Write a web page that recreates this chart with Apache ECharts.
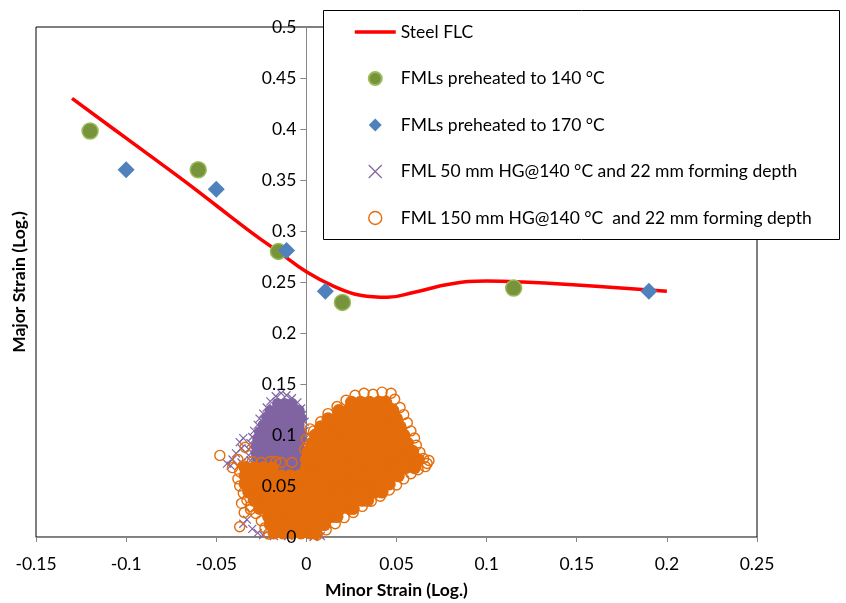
<!DOCTYPE html>
<html><head><meta charset="utf-8">
<script src="https://cdn.jsdelivr.net/npm/echarts@6/dist/echarts.min.js"></script>
<style>html,body{margin:0;padding:0;background:#fff}#c{width:846px;height:603px}</style>
</head><body><div id="c"></div>
<script>
// ---------- data ----------
const seriesNames = [
  'Steel FLC',
  'FMLs preheated to 140 °C',
  'FMLs preheated to 170 °C',
  'FML 50 mm HG@140 °C and 22 mm forming depth',
  'FML 150 mm HG@140 °C  and 22 mm forming depth'
];
const xAxisName = 'Minor Strain (Log.)';
const yAxisName = 'Major Strain (Log.)';
const xTicks = {min: -0.15, max: 0.25, step: 0.05};
const yTicks = {min: 0, max: 0.5, step: 0.05};

// Steel FLC curve
const flcX = [-0.13, -0.10, -0.07, -0.05, -0.03, -0.015, 0, 0.015, 0.03, 0.045, 0.06, 0.08, 0.10, 0.12, 0.15, 0.20];
const flcY = [0.430, 0.391, 0.352, 0.325, 0.298, 0.279, 0.260, 0.246, 0.237, 0.235, 0.240, 0.248, 0.251, 0.250, 0.247, 0.241];

// FMLs preheated to 140 °C
const fml140X = [-0.12, -0.06, -0.0155, 0.02, 0.115];
const fml140Y = [0.398, 0.360, 0.280, 0.230, 0.244];

// FMLs preheated to 170 °C
const fml170X = [-0.10, -0.05, -0.011, 0.0105, 0.19];
const fml170Y = [0.360, 0.341, 0.281, 0.241, 0.241];

// FML 50 mm HG : scattered points (edge / outliers)
const hg50Edge = [
  [-0.014,0.141],[-0.011,0.139],[-0.017,0.138],[-0.008,0.136],[-0.020,0.133],[-0.005,0.132],
  [-0.022,0.127],[-0.003,0.126],[-0.024,0.121],[-0.002,0.120],[-0.026,0.116],[-0.001,0.113],
  [-0.027,0.110],[-0.029,0.104],[-0.030,0.098],[-0.031,0.092],[-0.032,0.086],[-0.032,0.080],
  [-0.031,0.075],[-0.035,0.097],[-0.037,0.093],[-0.036,0.087],[-0.039,0.082],[-0.041,0.076],
  [-0.044,0.072],[-0.042,0.070],[-0.036,0.073],[-0.001,0.104],[-0.001,0.096],[-0.033,0.017],
  [-0.035,0.013],[-0.030,0.008],[-0.027,0.004],[-0.024,0.002],[-0.018,0.001],[-0.010,0.001],
  [0.004,0.000],[0.008,0.001]
];
// FML 50 mm HG : dense core, rows of [y, [x...]]
const hg50CoreRows = [
  [0.131, [-0.016,-0.012,-0.008]],
  [0.124, [-0.020,-0.016,-0.012,-0.008,-0.004]],
  [0.117, [-0.022,-0.018,-0.014,-0.010,-0.006,-0.003]],
  [0.110, [-0.024,-0.020,-0.016,-0.012,-0.008,-0.004]],
  [0.103, [-0.026,-0.022,-0.018,-0.014,-0.010,-0.006,-0.003]],
  [0.096, [-0.027,-0.023,-0.019,-0.015,-0.011,-0.007,-0.003]],
  [0.089, [-0.028,-0.024,-0.020,-0.016,-0.012,-0.008,-0.004]],
  [0.082, [-0.028,-0.024,-0.020,-0.016,-0.012,-0.008,-0.004]],
  [0.075, [-0.027,-0.023,-0.019,-0.015,-0.011,-0.007,-0.004]],
  [0.068, [-0.025,-0.021,-0.017,-0.013,-0.009,-0.005]]
];

// FML 150 mm HG : scattered points (edge / outliers)
const hg150Edge = [
  [0.004,0.104],[0.008,0.113],[0.012,0.121],[0.017,0.128],[0.022,0.134],[0.027,0.139],
  [0.032,0.141],[0.037,0.140],[0.042,0.142],[0.047,0.141],[0.049,0.135],[0.052,0.127],
  [0.054,0.120],[0.056,0.112],[0.058,0.104],[0.060,0.097],[0.061,0.090],[0.063,0.083],
  [0.065,0.077],[0.067,0.072],[0.066,0.069],[0.062,0.066],[0.058,0.062],[0.054,0.057],
  [0.050,0.051],[0.046,0.046],[0.041,0.040],[0.036,0.035],[0.031,0.030],[0.026,0.024],
  [0.021,0.019],[0.016,0.013],[0.011,0.007],[0.006,0.002],
  [0.000,0.096],[-0.001,0.086],[-0.008,0.073],[-0.014,0.073],[-0.020,0.074],[-0.025,0.073],
  [-0.030,0.074],[-0.035,0.070],[-0.037,0.064],[-0.038,0.057],[-0.037,0.050],[-0.035,0.043],
  [-0.033,0.036],[-0.031,0.030],[-0.028,0.023],[-0.025,0.016],[-0.023,0.009],[-0.021,0.003],
  [-0.048,0.080],[-0.034,0.088],[-0.038,0.076],[-0.041,0.068],[-0.037,0.010],[-0.0345,0.024],
  [-0.036,0.033],[-0.031,0.027],[-0.017,0.074],[0.002,0.106],[0.068,0.075]
];
// FML 150 mm HG : dense core, rows of [y, [x...]]
const hg150CoreRows = [
  [0.004, [-0.018,-0.013,-0.008,-0.003,0.002,0.005]],
  [0.012, [-0.020,-0.015,-0.010,-0.005,0.000,0.005,0.010]],
  [0.020, [-0.021,-0.016,-0.011,-0.006,-0.001,0.004,0.009,0.014,0.017]],
  [0.028, [-0.026,-0.021,-0.016,-0.011,-0.006,-0.001,0.004,0.009,0.014,0.019,0.024,0.026]],
  [0.036, [-0.029,-0.024,-0.019,-0.014,-0.009,-0.004,0.001,0.006,0.011,0.016,0.021,0.026,0.031,0.034]],
  [0.044, [-0.032,-0.027,-0.022,-0.017,-0.012,-0.007,-0.002,0.003,0.008,0.013,0.018,0.023,0.028,0.033,0.038,0.042]],
  [0.052, [-0.034,-0.029,-0.024,-0.019,-0.014,-0.009,-0.004,0.001,0.006,0.011,0.016,0.021,0.026,0.031,0.036,0.041,0.046]],
  [0.060, [-0.034,-0.029,-0.024,-0.019,-0.014,-0.009,-0.004,0.001,0.006,0.011,0.016,0.021,0.026,0.031,0.036,0.041,0.046,0.051]],
  [0.068, [-0.034,-0.029,-0.024,-0.019,0.000,0.005,0.010,0.015,0.020,0.025,0.030,0.035,0.040,0.045,0.050,0.055,0.060]],
  [0.076, [0.000,0.005,0.010,0.015,0.020,0.025,0.030,0.035,0.040,0.045,0.050,0.055,0.060,0.062]],
  [0.084, [0.001,0.006,0.011,0.016,0.021,0.026,0.031,0.036,0.041,0.046,0.051,0.056,0.059]],
  [0.092, [0.003,0.008,0.013,0.018,0.023,0.028,0.033,0.038,0.043,0.048,0.053,0.056]],
  [0.100, [0.005,0.010,0.015,0.020,0.025,0.030,0.035,0.040,0.045,0.050,0.054]],
  [0.108, [0.008,0.013,0.018,0.023,0.028,0.033,0.038,0.043,0.048,0.052]],
  [0.116, [0.012,0.017,0.022,0.027,0.032,0.037,0.042,0.047,0.050]],
  [0.124, [0.018,0.023,0.028,0.033,0.038,0.043,0.048]],
  [0.132, [0.025,0.030,0.035,0.040,0.044]]
];

// ---------- build ----------
const zip = (xs, ys) => xs.map((x, i) => [x, ys[i]]);
const rowsToPoints = rows => rows.flatMap(([y, xs]) => xs.map(x => [x, y]));

const FONT = 'Lato';
const FS = 17.5;
const C_RED = '#FF0000', C_GREEN = '#77933C', C_BLUE = '#4F81BD', C_PURPLE = '#8064A2', C_ORANGE = '#E46C0A';
const crossPath = 'path://M0,0L10,10M10,0L0,10';
const diamondPath = 'path://M5,0L10,5L5,10L0,5Z';

const GRID = {left: 36, right: 89, top: 27, bottom: 66};
const chart = echarts.init(document.getElementById('c'), null, {renderer: 'canvas'});
// the vertical axis sits at x = 0 of the horizontal axis
const plotW = 846 - GRID.left - GRID.right;
const zeroOffset = -plotW * (0 - xTicks.min) / (xTicks.max - xTicks.min);

chart.setOption({
  animation: false,
  backgroundColor: '#fff',
  textStyle: {fontFamily: FONT},
  grid: Object.assign({outerBoundsMode: 'none', containLabel: false,
         show: true, borderColor: '#000', borderWidth: 1, backgroundColor: 'transparent'}, GRID),
  graphic: {elements: [{
    type: 'rect', z: 10,
    shape: {x: 323.5, y: 10.5, width: 516, height: 229},
    style: {fill: '#fff', stroke: '#000', lineWidth: 1}
  }]},
  legend: {
    z: 20, orient: 'vertical', left: 353, top: 23, padding: 0,
    itemWidth: 41, itemHeight: 13, itemGap: 28.5,
    textStyle: {fontFamily: FONT, fontSize: FS, color: '#000'},
    data: [
      {name: seriesNames[0], itemStyle: {color: 'rgba(0,0,0,0)', borderWidth: 0}, lineStyle: {color: C_RED, width: 3.5}},
      {name: seriesNames[1]},
      {name: seriesNames[2], icon: diamondPath},
      {name: seriesNames[3], itemStyle: {borderWidth: 1.2}},
      {name: seriesNames[4], itemStyle: {borderWidth: 1.4}}
    ]
  },
  xAxis: {
    type: 'value', min: xTicks.min, max: xTicks.max, interval: xTicks.step,
    name: xAxisName, nameLocation: 'middle', nameGap: 44,
    nameTextStyle: {fontFamily: FONT, fontSize: FS, fontWeight: 'bold', color: '#000'},
    axisLine: {onZero: false, lineStyle: {color: '#868686', width: 1}},
    axisTick: {show: true, length: 5, lineStyle: {color: '#868686'}},
    axisLabel: {fontFamily: FONT, fontSize: FS, color: '#000', margin: 18},
    splitLine: {show: false}
  },
  yAxis: [{
    type: 'value', position: 'left', min: yTicks.min, max: yTicks.max, interval: yTicks.step,
    name: yAxisName, nameLocation: 'middle', nameGap: 8, nameRotate: 90,
    nameTextStyle: {fontFamily: FONT, fontSize: FS, fontWeight: 'bold', color: '#000'},
    axisLine: {show: false, onZero: false},
    axisTick: {show: false},
    axisLabel: {show: false},
    splitLine: {show: false}
  }, {
    type: 'value', position: 'left', offset: zeroOffset, min: yTicks.min, max: yTicks.max, interval: yTicks.step,
    axisLine: {show: true, onZero: false, lineStyle: {color: '#868686', width: 1}},
    axisTick: {show: true, length: 6, lineStyle: {color: '#868686'}},
    axisLabel: {show: false},
    splitLine: {show: false}
  }, {
    type: 'value', position: 'left', offset: zeroOffset, min: yTicks.min, max: yTicks.max, interval: yTicks.step, z: 30,
    axisLine: {show: false, onZero: false},
    axisTick: {show: false},
    axisLabel: {fontFamily: FONT, fontSize: FS, color: '#000', margin: 10},
    splitLine: {show: false}
  }],
  series: [
    {
      name: seriesNames[0], type: 'line', z: 6, data: zip(flcX, flcY),
      smooth: 0.45, symbol: 'none', lineStyle: {color: C_RED, width: 3.5}, itemStyle: {color: C_RED}
    },
    {
      name: seriesNames[1], type: 'scatter', z: 7, data: zip(fml140X, fml140Y),
      symbol: 'circle', symbolSize: 16,
      itemStyle: {color: C_GREEN, borderColor: '#9BBB59', borderWidth: 1.5, opacity: 1}
    },
    {
      name: seriesNames[2], type: 'scatter', z: 7, data: zip(fml170X, fml170Y),
      symbol: 'diamond', symbolSize: 17,
      itemStyle: {color: C_BLUE, opacity: 1}
    },
    {
      name: seriesNames[3], type: 'scatter', z: 4, data: hg50Edge,
      symbol: crossPath, symbolSize: 8,
      itemStyle: {color: 'rgba(0,0,0,0)', borderColor: C_PURPLE, borderWidth: 1.2, opacity: 1}
    },
    {
      name: seriesNames[4], type: 'scatter', z: 5, data: hg150Edge,
      symbol: 'circle', symbolSize: 10,
      itemStyle: {color: 'rgba(0,0,0,0)', borderColor: C_ORANGE, borderWidth: 1.4, opacity: 1}
    },
    {
      name: seriesNames[3], type: 'scatter', z: 3, data: rowsToPoints(hg50CoreRows),
      symbol: 'circle', symbolSize: 11,
      itemStyle: {color: C_PURPLE, opacity: 1}
    },
    {
      name: seriesNames[4], type: 'scatter', z: 5, data: rowsToPoints(hg150CoreRows),
      symbol: 'circle', symbolSize: 13,
      itemStyle: {color: C_ORANGE, opacity: 1}
    }
  ]
});
</script></body></html>
